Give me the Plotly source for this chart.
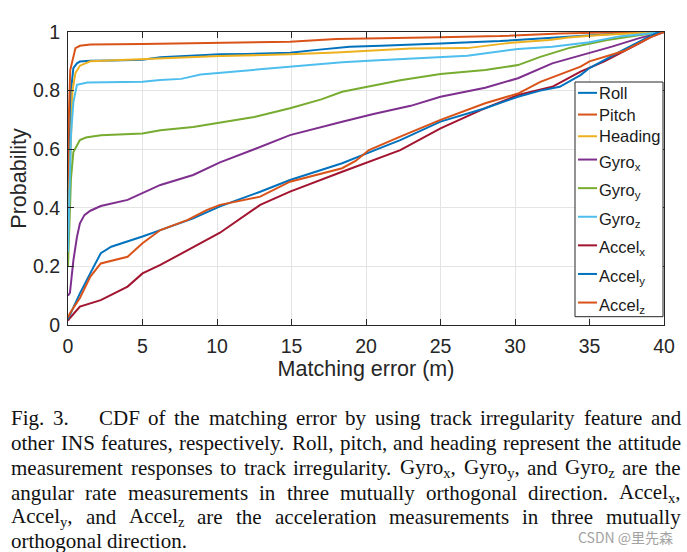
import re
import plotly.graph_objects as go

# ---------------- data ----------------
roll_x = [0, 0.1, 0.2, 0.36, 0.6, 0.8, 1.5, 3, 5, 6.2, 8, 10.2, 12, 14.9, 16.7, 18.9, 21, 23, 25, 27, 29, 31.7, 33, 35, 37, 38.5, 40]
roll_y = [0.35, 0.6, 0.8, 0.877, 0.893, 0.899, 0.902, 0.903, 0.905, 0.914, 0.918, 0.924, 0.925, 0.929, 0.939, 0.95, 0.953, 0.956, 0.961, 0.965, 0.969, 0.978, 0.982, 0.99, 0.995, 0.998, 1.0]

pitch_x = [0, 0.05, 0.15, 0.3, 0.5, 0.8, 1.5, 5, 10.2, 14.9, 18, 23, 25, 29, 33, 36, 38.4, 40]
pitch_y = [0.46, 0.7, 0.87, 0.9, 0.945, 0.953, 0.957, 0.959, 0.963, 0.967, 0.976, 0.982, 0.982, 0.986, 0.995, 0.998, 1.0, 1.0]

heading_x = [0, 0.15, 0.3, 0.5, 0.8, 1.5, 3, 5, 8, 10.2, 14.9, 18, 23, 26.8, 29.5, 32.3, 33.6, 35, 37, 40]
heading_y = [0.3, 0.6, 0.8, 0.86, 0.885, 0.9, 0.903, 0.905, 0.912, 0.918, 0.924, 0.93, 0.944, 0.945, 0.962, 0.973, 0.981, 0.987, 0.993, 1.0]

gyrox_x = [0, 0.13, 0.36, 0.6, 0.8, 1.1, 1.5, 2.2, 4, 5, 6.2, 8.4, 10.2, 12.5, 14.9, 18.4, 20.5, 23, 25, 28, 30.2, 32.5, 34.4, 35, 36.5, 38.4, 40]
gyrox_y = [0.1, 0.11, 0.22, 0.3, 0.347, 0.375, 0.39, 0.406, 0.427, 0.45, 0.478, 0.512, 0.555, 0.6, 0.648, 0.694, 0.72, 0.748, 0.779, 0.81, 0.842, 0.893, 0.92, 0.928, 0.95, 0.98, 1.0]

gyroy_x = [0, 0.1, 0.2, 0.36, 0.6, 0.8, 1.2, 2.2, 5, 6.2, 8.4, 10.2, 12.5, 14.9, 17, 18.4, 20.2, 22.3, 25, 28, 30.2, 31.7, 33.6, 36.2, 38.4, 40]
gyroy_y = [0.2, 0.35, 0.5, 0.59, 0.615, 0.631, 0.64, 0.648, 0.654, 0.665, 0.676, 0.692, 0.71, 0.74, 0.77, 0.796, 0.813, 0.835, 0.857, 0.87, 0.887, 0.915, 0.945, 0.973, 0.99, 1.0]

gyroz_x = [0, 0.1, 0.2, 0.36, 0.6, 1.3, 5, 6.2, 7.6, 8.9, 10.2, 12.5, 14.9, 18.4, 20.5, 23, 25, 26.8, 30.2, 32.5, 35, 37, 40]
gyroz_y = [0.25, 0.45, 0.65, 0.76, 0.82, 0.828, 0.83, 0.836, 0.84, 0.855, 0.861, 0.872, 0.882, 0.897, 0.903, 0.91, 0.914, 0.919, 0.942, 0.95, 0.965, 0.985, 1.0]

accelx_x = [0, 0.13, 0.8, 2.2, 4, 5, 6.2, 8.4, 10.2, 12.9, 14.9, 18.4, 20.2, 22.3, 25, 28, 30.2, 32.5, 34.4, 36, 38.3, 39.2, 40]
accelx_y = [0.015, 0.024, 0.063, 0.085, 0.131, 0.176, 0.205, 0.267, 0.315, 0.41, 0.455, 0.523, 0.557, 0.597, 0.671, 0.74, 0.785, 0.813, 0.865, 0.9, 0.96, 0.985, 1.0]

accely_x = [0, 0.13, 0.8, 1.5, 2.2, 2.9, 4, 5, 6.2, 8.4, 10.2, 12.9, 14.9, 18.4, 20.6, 22.3, 25, 28, 30.2, 31.7, 33, 34.4, 35, 37.3, 39.5, 40]
accely_y = [0.02, 0.034, 0.108, 0.177, 0.245, 0.267, 0.284, 0.302, 0.324, 0.364, 0.405, 0.455, 0.495, 0.552, 0.597, 0.631, 0.694, 0.74, 0.779, 0.8, 0.813, 0.853, 0.877, 0.94, 0.997, 1.0]

accelz_x = [0, 0.13, 0.8, 1.5, 2.2, 4, 5, 6.2, 8, 9.3, 10.2, 12.9, 14.9, 18.4, 19.3, 20.2, 22.3, 25, 28, 30.2, 31.7, 34.4, 35, 37.3, 39, 40]
accelz_y = [0.025, 0.04, 0.092, 0.165, 0.21, 0.233, 0.279, 0.324, 0.358, 0.392, 0.41, 0.438, 0.489, 0.535, 0.56, 0.597, 0.643, 0.70, 0.757, 0.79, 0.83, 0.882, 0.9, 0.935, 0.98, 1.0]

series_names = ["Roll", "Pitch", "Heading", "Gyro<sub>x</sub>", "Gyro<sub>y</sub>", "Gyro<sub>z</sub>",
                "Accel<sub>x</sub>", "Accel<sub>y</sub>", "Accel<sub>z</sub>"]
series_colors = ["#0072BD", "#D95319", "#EDB120", "#7E2F8E", "#77AC30", "#4DBEEE",
                 "#A2142F", "#0072BD", "#D95319"]

x_ticks = [0, 5, 10, 15, 20, 25, 30, 35, 40]
y_ticks = [0, 0.2, 0.4, 0.6, 0.8, 1.0]
y_ticklabels = ["0", "0.2", "0.4", "0.6", "0.8", "1"]

x_title = "Matching error (m)"
y_title = "Probability"

caption_lines = [
    "Fig. 3. CDF of the matching error by using track irregularity feature and",
    "other INS features, respectively. Roll, pitch, and heading represent the attitude",
    "measurement responses to track irregularity. Gyro<sub>x</sub>, Gyro<sub>y</sub>, and Gyro<sub>z</sub> are the",
    "angular rate measurements in three mutually orthogonal direction. Accel<sub>x</sub>,",
    "Accel<sub>y</sub>, and Accel<sub>z</sub> are the acceleration measurements in three mutually",
    "orthogonal direction.",
]
watermark = "CSDN @里先森"

# ---------------- layout geometry ----------------
W, H = 687, 552
L, R, T, B = 68, 664, 32, 325


def pxx(x):
    return (x - L) / (R - L)


def pxy(y):
    return (B - y) / (B - T)


AX = "#262626"
SANS = "Liberation Sans, Arial, sans-serif"
SERIF = "Liberation Serif, Times New Roman, serif"

fig = go.Figure()
all_x = [roll_x, pitch_x, heading_x, gyrox_x, gyroy_x, gyroz_x, accelx_x, accely_x, accelz_x]
all_y = [roll_y, pitch_y, heading_y, gyrox_y, gyroy_y, gyroz_y, accelx_y, accely_y, accelz_y]
for xs, ys, nm, col in zip(all_x, all_y, series_names, series_colors):
    fig.add_trace(go.Scatter(x=xs, y=ys, mode="lines", name=nm,
                             line=dict(color=col, width=2), showlegend=False))

axis_common = dict(showgrid=True, gridcolor="#e4e4e4", gridwidth=1, zeroline=False,
                   showline=True, linecolor=AX, linewidth=1, mirror="ticks",
                   ticks="inside", ticklen=6, tickcolor=AX, tickwidth=1,
                   tickfont=dict(family=SANS, size=19.5, color=AX))

fig.update_layout(
    width=W, height=H,
    margin=dict(l=L, r=W - R, t=T, b=H - B, autoexpand=False),
    paper_bgcolor="white", plot_bgcolor="white",
    xaxis=dict(range=[0, 40], tickvals=x_ticks, ticklabelstandoff=4,
               title=dict(text=x_title, font=dict(family=SANS, size=21.5, color=AX), standoff=4),
               **axis_common),
    yaxis=dict(range=[0, 1], tickvals=y_ticks, ticktext=y_ticklabels, ticklabelstandoff=3,
               title=dict(text=y_title, font=dict(family=SANS, size=21.5, color=AX), standoff=0),
               **axis_common),
)

# ---------------- manual legend ----------------
leg_x0, leg_x1 = 575, 663
leg_top = 82
shapes = []
annotations = []
h_norm, h_sub, off_sub = 21.7, 28.6, 12.45
ycur = leg_top
line_ys = []
for nm in series_names:
    if "<sub>" in nm:
        line_ys.append(ycur + off_sub)
        ycur += h_sub
    else:
        line_ys.append(ycur + h_norm / 2)
        ycur += h_norm
leg_bottom = ycur - 2
shapes.append(dict(type="rect", xref="paper", yref="paper", x0=pxx(leg_x0), x1=pxx(leg_x1),
                   y0=pxy(leg_bottom), y1=pxy(leg_top), fillcolor="white",
                   line=dict(color=AX, width=1), layer="above"))
for nm, col, ly in zip(series_names, series_colors, line_ys):
    shapes.append(dict(type="line", xref="paper", yref="paper", x0=pxx(578), x1=pxx(597),
                       y0=pxy(ly), y1=pxy(ly), line=dict(color=col, width=2), layer="above"))
    dy = 3 if "<sub>" in nm else 0
    annotations.append(dict(text=nm, xref="paper", yref="paper", x=pxx(598), y=pxy(ly + dy),
                            xanchor="left", yanchor="middle", showarrow=False, borderpad=0,
                            font=dict(family=SANS, size=16.5, color="#1a1a1a")))

# ---------------- caption (justified with Times metrics) ----------------
TW = {' ': 250, ',': 250, '.': 250, '3': 500,
      'A': 722, 'C': 667, 'D': 722, 'F': 556, 'G': 722, 'I': 333, 'N': 722, 'R': 667, 'S': 556,
      'a': 444, 'b': 500, 'c': 444, 'd': 500, 'e': 444, 'f': 333, 'g': 500, 'h': 500, 'i': 278,
      'j': 278, 'k': 500, 'l': 278, 'm': 778, 'n': 500, 'o': 500, 'p': 500, 'q': 500, 'r': 333,
      's': 389, 't': 278, 'u': 500, 'v': 500, 'w': 722, 'x': 500, 'y': 500, 'z': 444}
FS = 21


def text_width(s, fs):
    w = 0.0
    for part in re.split(r"(<sub>.*?</sub>)", s):
        if part.startswith("<sub>"):
            w += sum(TW.get(ch, 500) for ch in part[5:-6]) * 0.7
        else:
            w += sum(TW.get(ch, 500) for ch in part)
    return w * fs / 1000.0


CX0, CX1 = 10, 680
line_centers = [418, 443, 468, 492.5, 517, 541]
for i, (ln, yc) in enumerate(zip(caption_lines, line_centers)):
    words = ln.split(" ")
    widths = [text_width(wd, FS) for wd in words]
    extra = {1: 1.0 * FS} if i == 0 else {}
    justify = i < len(caption_lines) - 1
    if justify:
        gap = (CX1 - CX0 - sum(widths) - sum(extra.values())) / (len(words) - 1)
    else:
        gap = 0.25 * FS
    xc = CX0
    for j, wd in enumerate(words):
        annotations.append(dict(text=wd, xref="paper", yref="paper", x=pxx(xc), y=pxy(yc),
                                xanchor="left", yanchor="middle", showarrow=False, borderpad=0,
                                font=dict(family=SERIF, size=FS, color="#111111")))
        xc += widths[j] + gap + extra.get(j, 0)

annotations.append(dict(text=watermark, xref="paper", yref="paper", x=pxx(674), y=pxy(537),
                        xanchor="right", yanchor="middle", showarrow=False, borderpad=0,
                        font=dict(family="Noto Sans CJK SC, sans-serif", size=14, color="#a3a3a3")))

fig.update_layout(shapes=shapes, annotations=annotations)
fig.write_html("out.html", config={"displayModeBar": False},
               post_script="document.body.style.margin='0';document.body.style.overflow='hidden';")
